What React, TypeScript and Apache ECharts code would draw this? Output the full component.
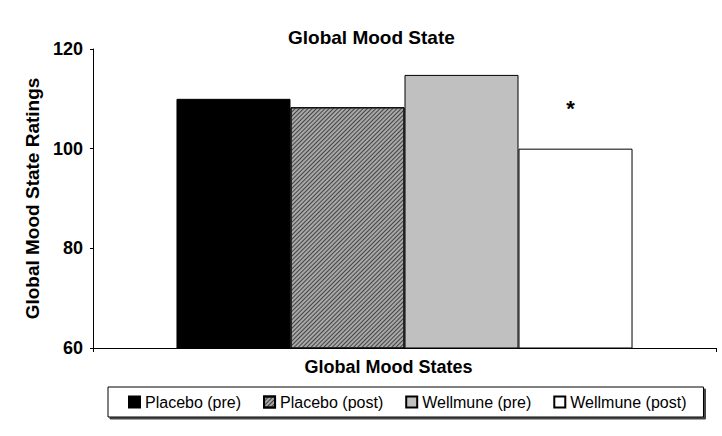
import React, { useEffect, useRef } from "react";
import * as echarts from "echarts";

const categories = ["Global Mood States"];
const seriesNames = ["Placebo (pre)", "Placebo (post)", "Wellmune (pre)", "Wellmune (post)"];
const placeboPre = [110];
const placeboPost = [108.3];
const wellmunePre = [114.8];
const wellmunePost = [100];
const significance = ["", "", "", "*"];
const yTicks = { min: 60, max: 120, interval: 20 };

const FONT = "'Liberation Sans', Arial, sans-serif";

export default function App() {
  const ref = useRef<HTMLDivElement>(null);
  useEffect(() => {
    if (!ref.current) return;
    const chart = echarts.init(ref.current, null, { renderer: "svg" });
    const values = [placeboPre, placeboPost, wellmunePre, wellmunePost];
    const fills = ["#000000", "#a8a8a8", "#c0c0c0", "#ffffff"];
    const series: any[] = values.map((v, i) => {
      const s: any = {
        name: seriesNames[i],
        type: "bar",
        data: v,
        barGap: "0%",
        barCategoryGap: "26.8%",
        itemStyle: {
          color: fills[i],
          borderColor: "#000",
          borderWidth: 1,
        },
        label: {
          show: significance[i] !== "",
          position: "top",
          distance: 29,
          offset: [-5, 0],
          formatter: significance[i],
          fontSize: 22,
          fontWeight: "bold",
          color: "#000",
          fontFamily: FONT,
        },
      };
      if (i === 1) {
        s.itemStyle.decal = {
          symbol: "rect",
          symbolSize: 1,
          color: "#444",
          backgroundColor: "#b8b8b8",
          dashArrayX: [1, 0],
          dashArrayY: [1, 1.2],
          rotation: -Math.PI / 4,
        };
      }
      return s;
    });
    chart.setOption({
      animation: false,
      title: {
        text: "Global Mood State",
        left: 283,
        top: 23,
        textStyle: { fontSize: 19, fontWeight: "bold", color: "#000", fontFamily: FONT },
      },
      grid: { left: 93, right: 6, top: 49, bottom: 88 },
      legend: {
        top: 387,
        left: 108,
        itemWidth: 11,
        itemHeight: 11,
        itemGap: 22,
        padding: [7, 17, 7, 20],
        borderColor: "#000",
        borderWidth: 1,
        backgroundColor: "#fff",
        shadowColor: "#444",
        shadowOffsetX: 2,
        shadowOffsetY: 2,
        shadowBlur: 0,
        icon: "rect",
        textStyle: { fontSize: 16, color: "#000", fontFamily: FONT },
        data: seriesNames,
      },
      xAxis: {
        type: "category",
        data: categories,
        name: categories[0],
        nameLocation: "middle",
        nameGap: 10,
        nameTextStyle: {
          fontSize: 18,
          fontWeight: "bold",
          color: "#000",
          fontFamily: FONT,
          padding: [0, 32, 0, 0],
        },
        axisLine: { lineStyle: { color: "#000", width: 1 } },
        axisTick: { show: true, length: 4, lineStyle: { color: "#000" } },
        axisLabel: { show: false },
      },
      yAxis: {
        type: "value",
        min: yTicks.min,
        max: yTicks.max,
        interval: yTicks.interval,
        name: "Global Mood State Ratings",
        nameLocation: "middle",
        nameGap: 47,
        nameTextStyle: { fontSize: 19, fontWeight: "bold", color: "#000", fontFamily: FONT },
        axisLine: { show: true, lineStyle: { color: "#000", width: 1 } },
        axisTick: { show: true, length: 3, lineStyle: { color: "#000" } },
        splitLine: { show: false },
        axisLabel: { fontSize: 18, fontWeight: "bold", color: "#000", fontFamily: FONT, margin: 10 },
      },
      series,
    });
    return () => chart.dispose();
  }, []);
  return <div ref={ref} style={{ width: 722, height: 436, position: "absolute", left: 0, top: 0 }} />;
}
